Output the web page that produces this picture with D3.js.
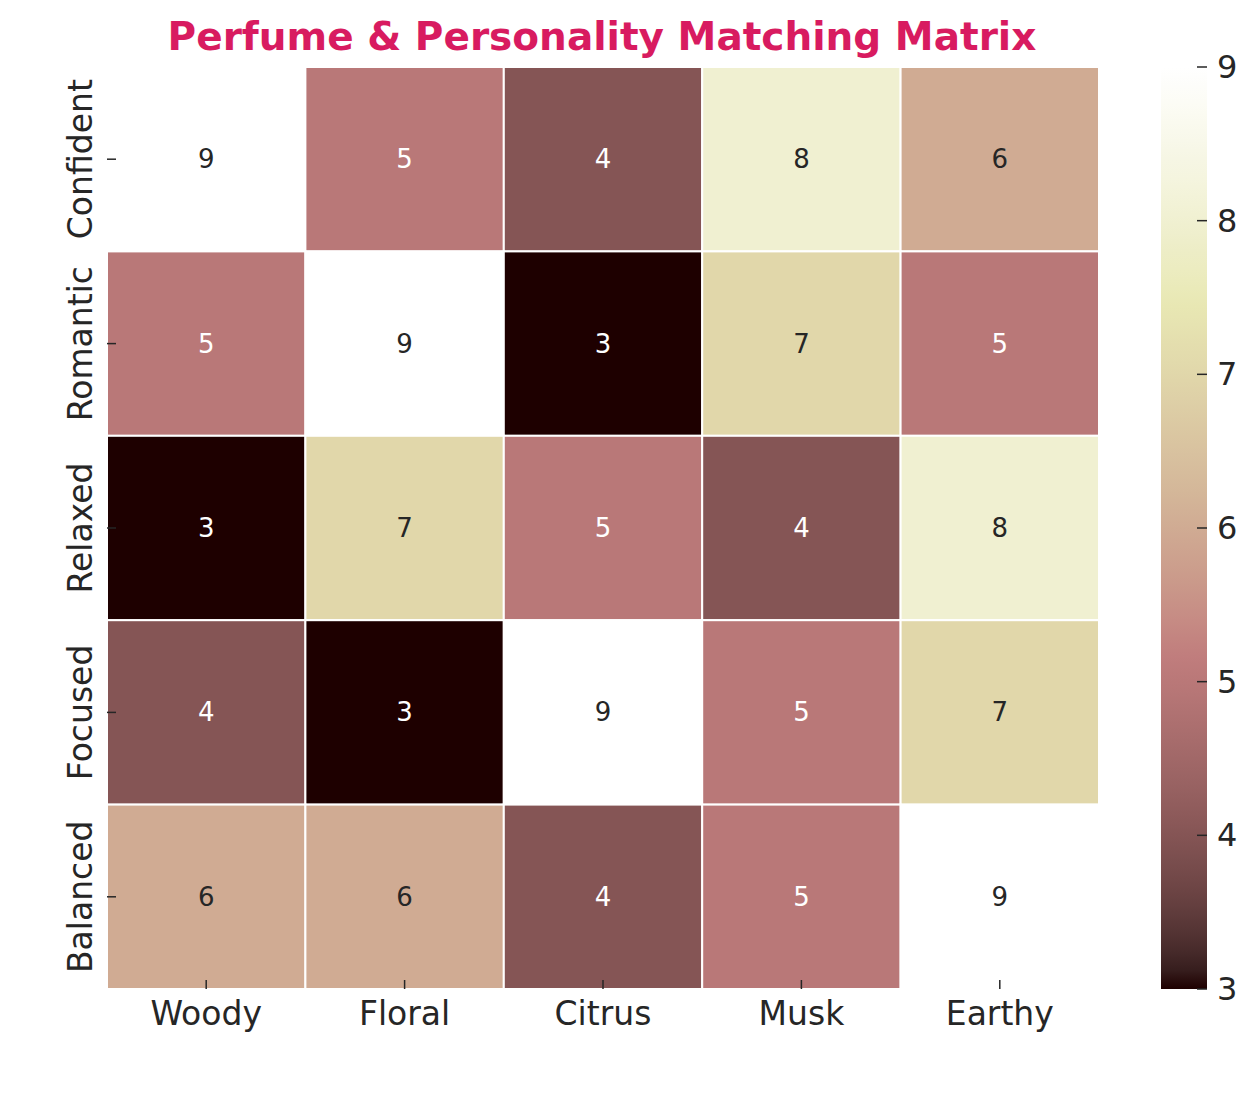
<!DOCTYPE html>
<html lang="en">
<head>
    <meta charset="UTF-8">
    <script src="https://cdn.jsdelivr.net/npm/d3@7"></script>
    <title>Perfume & Personality Matching Matrix</title>
    <style>
        body {
            margin: 0;
            background: white;
        }

        text {
            font-family: 'DejaVu Sans', sans-serif;
        }
    </style>
</head>

<body>
<div id="chart"></div>

<script>
    // data
    const scents = ["Woody", "Floral", "Citrus", "Musk", "Earthy"];
    const personalities = ["Confident", "Romantic", "Relaxed", "Focused", "Balanced"];
    const scores = [
        [9, 5, 4, 8, 6],
        [5, 9, 3, 7, 5],
        [3, 7, 5, 4, 8],
        [4, 3, 9, 5, 7],
        [6, 6, 4, 5, 9]
    ];
    const colorTicks = [3, 4, 5, 6, 7, 8, 9];

    const width = 1258, height = 1097;
    const plot = { left: 107, right: 1099, top: 67, bottom: 989 };
    const cbar = { x: 1161, w: 46 };

    // matplotlib "pink" = sqrt((2*gray + hot) / 3)
    function pink(t) {
        const hr = Math.min(1, 0.0416 + (1 - 0.0416) * t / 0.365079);
        const hg = Math.max(0, Math.min(1, (t - 0.365079) / (0.746032 - 0.365079)));
        const hb = Math.max(0, Math.min(1, (t - 0.746032) / (1 - 0.746032)));
        const f = h => Math.round(255 * Math.sqrt((2 * t + h) / 3));
        return `rgb(${f(hr)},${f(hg)},${f(hb)})`;
    }

    const color = d3.scaleSequential(pink).domain([3, 9]);

    const svg = d3.select("#chart").append("svg")
        .attr("width", width)
        .attr("height", height);

    const x = d3.scaleBand().domain(scents).range([plot.left, plot.right]);
    const y = d3.scaleBand().domain(personalities).range([plot.top, plot.bottom]);

    const cells = personalities.flatMap((p, i) =>
        scents.map((s, j) => ({ p, s, v: scores[i][j] })));

    svg.append("g").selectAll("rect")
        .data(cells)
        .enter()
        .append("rect")
        .attr("x", d => x(d.s))
        .attr("y", d => y(d.p))
        .attr("width", x.bandwidth())
        .attr("height", y.bandwidth())
        .attr("fill", d => color(d.v))
        .attr("stroke", "white")
        .attr("stroke-width", 2);

    svg.append("g").selectAll("text")
        .data(cells)
        .enter()
        .append("text")
        .attr("x", d => x(d.s) + x.bandwidth() / 2)
        .attr("y", d => y(d.p) + y.bandwidth() / 2)
        .attr("text-anchor", "middle")
        .attr("dominant-baseline", "central")
        .attr("font-size", 26)
        .attr("fill", d => d.v <= 5 ? "white" : "#262626")
        .text(d => d.v);

    // x ticks (drawn inward over the cells)
    const xt = svg.append("g");
    scents.forEach(s => {
        const cx = x(s) + x.bandwidth() / 2;
        xt.append("line")
            .attr("x1", cx).attr("x2", cx)
            .attr("y1", plot.bottom - 9).attr("y2", plot.bottom)
            .attr("stroke", "#262626").attr("stroke-width", 1.5);
        xt.append("text")
            .attr("x", cx)
            .attr("y", 1025)
            .attr("text-anchor", "middle")
            .attr("font-size", 33)
            .attr("fill", "#262626")
            .text(s);
    });

    // y ticks
    const yt = svg.append("g");
    personalities.forEach(p => {
        const cy = y(p) + y.bandwidth() / 2;
        yt.append("line")
            .attr("x1", plot.left).attr("x2", plot.left + 9)
            .attr("y1", cy).attr("y2", cy)
            .attr("stroke", "#262626").attr("stroke-width", 1.5);
        yt.append("text")
            .attr("transform", `translate(92,${cy}) rotate(-90)`)
            .attr("text-anchor", "middle")
            .attr("font-size", 33)
            .attr("fill", "#262626")
            .text(p);
    });

    // colorbar
    const cy = d3.scaleLinear().domain([3, 9]).range([plot.bottom, plot.top]);
    const grad = svg.append("defs").append("linearGradient")
        .attr("id", "cbgrad")
        .attr("x1", 0).attr("y1", 1).attr("x2", 0).attr("y2", 0);
    d3.range(0, 1.0001, 0.02).forEach(t => {
        grad.append("stop")
            .attr("offset", t)
            .attr("stop-color", pink(t));
    });
    svg.append("rect")
        .attr("x", cbar.x)
        .attr("y", plot.top)
        .attr("width", cbar.w)
        .attr("height", plot.bottom - plot.top)
        .attr("fill", "url(#cbgrad)");

    const cb = svg.append("g");
    colorTicks.forEach(v => {
        cb.append("line")
            .attr("x1", cbar.x + cbar.w - 10).attr("x2", cbar.x + cbar.w)
            .attr("y1", cy(v)).attr("y2", cy(v))
            .attr("stroke", "#262626").attr("stroke-width", 1.5);
        cb.append("text")
            .attr("x", cbar.x + cbar.w + 10)
            .attr("y", cy(v))
            .attr("dominant-baseline", "central")
            .attr("font-size", 32)
            .attr("fill", "#262626")
            .text(v);
    });

    // title
    svg.append("text")
        .attr("x", 602)
        .attr("y", 50)
        .attr("text-anchor", "middle")
        .attr("font-size", 39)
        .attr("font-weight", "bold")
        .attr("fill", "#d81b60")
        .text("Perfume & Personality Matching Matrix");
</script>
</body>
</html>
